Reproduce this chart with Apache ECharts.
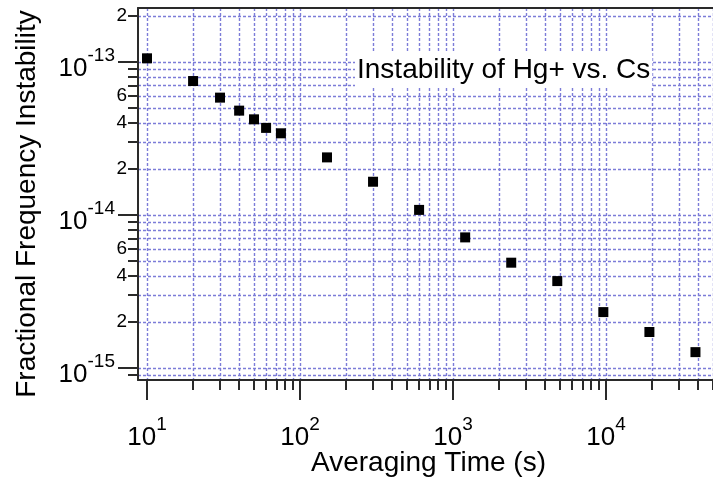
<!DOCTYPE html>
<html>
<head>
<meta charset="utf-8">
<script src="https://cdn.jsdelivr.net/npm/echarts@6/dist/echarts.min.js"></script>
<style>
html,body{margin:0;padding:0;background:#fff;}
#chart{width:713px;height:489px;}
</style>
</head>
<body>
<div id="chart"></div>
<script>
// ---- data ----
var averagingTime = [10, 20, 30, 40, 50, 60, 75, 150, 300, 600, 1200, 2400, 4800, 9600, 19200, 38400];
var instability = [1.057e-13, 7.51e-14, 5.85e-14, 4.81e-14, 4.22e-14, 3.71e-14, 3.42e-14, 2.38e-14,
                   1.65e-14, 1.08e-14, 7.14e-15, 4.88e-15, 3.70e-15, 2.32e-15, 1.72e-15, 1.27e-15];

// ---- axes ----
var xRange = [8.73, 5.0e4];
var yRange = [8.35e-16, 2.254e-13];
var xMajorTicks = [10, 100, 1000, 10000];
var xAllTicks = [10, 20, 30, 40, 50, 60, 70, 80, 90,
                 100, 200, 300, 400, 500, 600, 700, 800, 900,
                 1000, 2000, 3000, 4000, 5000, 6000, 7000, 8000, 9000,
                 10000, 20000, 30000, 40000, 50000];
var yMajorTicks = [1e-15, 1e-14, 1e-13];
var yAllTicks = [9e-16,
                 1e-15, 2e-15, 3e-15, 4e-15, 5e-15, 6e-15, 7e-15, 8e-15, 9e-15,
                 1e-14, 2e-14, 3e-14, 4e-14, 5e-14, 6e-14, 7e-14, 8e-14, 9e-14,
                 1e-13, 2e-13];
var yMinorLabels = [2e-15, 4e-15, 6e-15, 2e-14, 4e-14, 6e-14, 2e-13];

var titleText = 'Instability of Hg+ vs. Cs';
var xName = 'Averaging Time (s)';
var yName = 'Fractional Frequency Instability';

var FONT = 'Liberation Sans, Arial, sans-serif';
var gridColor = '#7c7cd8';
var axisColor = '#2a2a2a';

function powLabel(v) {
  var e = Math.round(Math.log10(v));
  return '{b|10}{s|' + e + '}';
}
function mantissaLabel(v) {
  var e = Math.floor(Math.log10(v) + 1e-9);
  return String(Math.round(v / Math.pow(10, e)));
}
function tickLine() {
  return {color: axisColor, width: 2};
}

var chart = echarts.init(document.getElementById('chart'), null, {renderer: 'canvas'});
chart.setOption({
  backgroundColor: '#fff',
  animation: false,
  title: {
    text: titleText,
    left: 355, top: 52, z: 20,
    padding: [3, 2, 1, 2],
    backgroundColor: '#fff',
    textStyle: {fontFamily: FONT, fontSize: 28, fontWeight: 'normal', color: '#000', lineHeight: 31}
  },
  grid: {left: 138, top: 8, right: 0, bottom: 109, containLabel: false},
  xAxis: [
    {
      // every decade/sub-decade tick (short) + dotted grid
      type: 'log', position: 'bottom', min: xRange[0], max: xRange[1],
      axisLine: {show: true, onZero: false, lineStyle: {color: axisColor, width: 2}},
      axisTick: {show: true, inside: false, length: 10, customValues: xAllTicks, lineStyle: tickLine()},
      axisLabel: {show: false},
      splitLine: {show: true, lineStyle: {color: gridColor, width: 1.4, type: [3, 2]}},
      minorTick: {show: false}, minorSplitLine: {show: false},
      name: xName, nameLocation: 'middle', nameGap: 69,
      nameTextStyle: {fontFamily: FONT, fontSize: 28, color: '#000', padding: [0, 0, 0, 6]}
    },
    {
      // decade ticks (long) + power labels
      type: 'log', position: 'bottom', min: xRange[0], max: xRange[1],
      axisLine: {show: false, onZero: false},
      axisTick: {show: true, inside: false, length: 20, customValues: xMajorTicks, lineStyle: tickLine()},
      axisLabel: {show: true, customValues: xMajorTicks, margin: 35, formatter: powLabel,
        color: '#000', fontFamily: FONT,
        rich: {
          b: {fontSize: 26, lineHeight: 45, verticalAlign: 'middle', fontFamily: FONT, color: '#000'},
          s: {fontSize: 19, lineHeight: 20, verticalAlign: 'top', fontFamily: FONT, color: '#000'}
        }},
      splitLine: {show: false},
      minorTick: {show: false}, minorSplitLine: {show: false}
    },
    {
      // top frame line
      type: 'value', position: 'top', min: 0, max: 1,
      axisLine: {show: true, onZero: false, lineStyle: {color: axisColor, width: 2}},
      axisTick: {show: false}, axisLabel: {show: false}, splitLine: {show: false}
    }
  ],
  yAxis: [
    {
      // every tick (short) + dotted grid + mantissa labels
      type: 'log', position: 'left', min: yRange[0], max: yRange[1],
      axisLine: {show: true, onZero: false, lineStyle: {color: axisColor, width: 2}},
      axisTick: {show: true, inside: false, length: 10, customValues: yAllTicks, lineStyle: tickLine()},
      axisLabel: {show: true, customValues: yMinorLabels, margin: 11, formatter: mantissaLabel,
        color: '#000', fontFamily: FONT, fontSize: 19},
      splitLine: {show: true, lineStyle: {color: gridColor, width: 1.4, type: [3, 2]}},
      minorTick: {show: false}, minorSplitLine: {show: false},
      name: yName, nameLocation: 'middle', nameGap: 97, nameRotate: 90,
      nameTextStyle: {fontFamily: FONT, fontSize: 28, color: '#000', padding: [0, 20, 0, 0]}
    },
    {
      // decade ticks (long) + power labels
      type: 'log', position: 'left', min: yRange[0], max: yRange[1],
      axisLine: {show: false, onZero: false},
      axisTick: {show: true, inside: false, length: 20, customValues: yMajorTicks, lineStyle: tickLine()},
      axisLabel: {show: true, customValues: yMajorTicks, margin: 23, formatter: powLabel,
        color: '#000', fontFamily: FONT, padding: [14, 0, 0, 0],
        rich: {
          b: {fontSize: 26, lineHeight: 46, verticalAlign: 'middle', fontFamily: FONT, color: '#000'},
          s: {fontSize: 19, lineHeight: 20, verticalAlign: 'top', fontFamily: FONT, color: '#000'}
        }},
      splitLine: {show: false},
      minorTick: {show: false}, minorSplitLine: {show: false}
    }
  ],
  series: [{
    type: 'scatter',
    xAxisIndex: 0, yAxisIndex: 0,
    symbol: 'rect', symbolSize: 10,
    itemStyle: {color: '#000', opacity: 1},
    data: averagingTime.map(function (t, i) { return [t, instability[i]]; }),
    z: 5
  }]
});
</script>
</body>
</html>
